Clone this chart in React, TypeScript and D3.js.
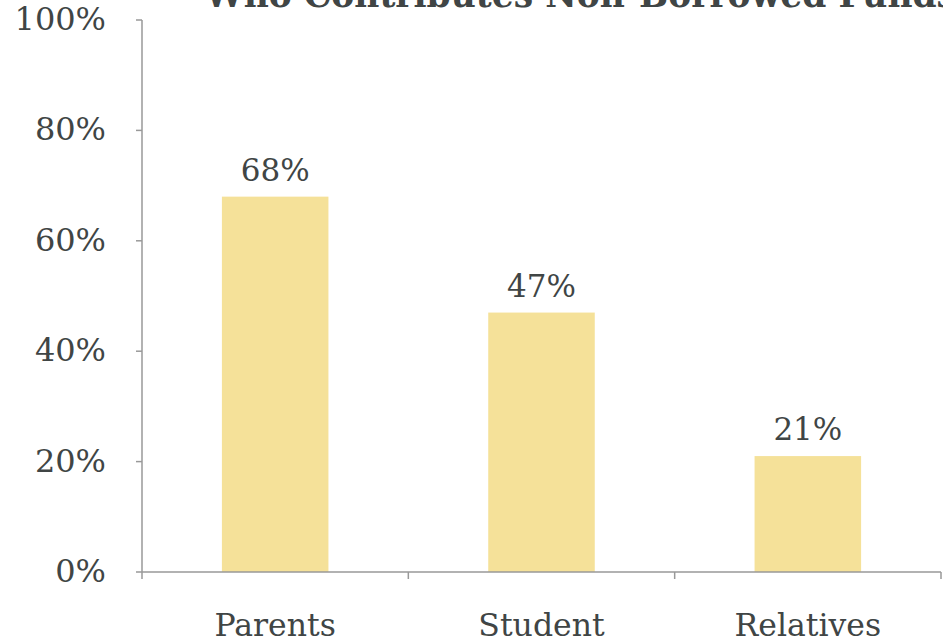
import React from "react";
import * as d3 from "d3";

const categories = ["Parents", "Student", "Relatives"];
const values = [68, 47, 21];
const yTicks = [0, 20, 40, 60, 80, 100];
const title = "Who Contributes Non-Borrowed Funds";

const W = 943;
const H = 642;
const FONT = "'DejaVu Serif', Georgia, serif";
const TEXT = "#404545";
const AXIS = "#999999";
const BAR = "#f5e199";

export default function App() {
  const x = d3.scaleBand<string>().domain(categories).range([142, 941]).paddingInner(0).paddingOuter(0);
  const y = d3.scaleLinear().domain([0, 100]).range([572, 20]);
  const bw = x.bandwidth() * 0.4;
  const bounds = [142, ...categories.map((c) => (x(c) as number) + x.bandwidth())];
  return (
    <svg width={W} height={H} style={{ position: "absolute", left: 0, top: 0, background: "#fff" }}>
      <text x={205} y={7} fontFamily={FONT} fontWeight="bold" fontSize={34.5} fill={TEXT}>
        {title}
      </text>
      {categories.map((c, i) => {
        const cx = (x(c) as number) + x.bandwidth() / 2;
        return (
          <g key={c}>
            <rect x={cx - bw / 2} y={y(values[i])} width={bw} height={y(0) - y(values[i])} fill={BAR} />
            <text x={cx} y={y(values[i]) - 16} textAnchor="middle" fontFamily={FONT} fontSize={31} fill={TEXT}>
              {values[i] + "%"}
            </text>
            <text x={cx} y={636} textAnchor="middle" fontFamily={FONT} fontSize={31.5} fill={TEXT}>
              {c}
            </text>
          </g>
        );
      })}
      <line x1={142} x2={142} y1={y(100)} y2={y(0)} stroke={AXIS} strokeWidth={1.5} />
      <line x1={142} x2={941} y1={y(0)} y2={y(0)} stroke={AXIS} strokeWidth={1.5} />
      {yTicks.map((t) => (
        <g key={t}>
          <line x1={136} x2={142} y1={y(t)} y2={y(t)} stroke={AXIS} strokeWidth={1.5} />
          <text x={106} y={y(t) + 10} textAnchor="end" fontFamily={FONT} fontSize={32} fill={TEXT}>
            {t + "%"}
          </text>
        </g>
      ))}
      {bounds.map((b, i) => (
        <line key={i} x1={b} x2={b} y1={y(0)} y2={y(0) + 7} stroke={AXIS} strokeWidth={1.5} />
      ))}
    </svg>
  );
}
